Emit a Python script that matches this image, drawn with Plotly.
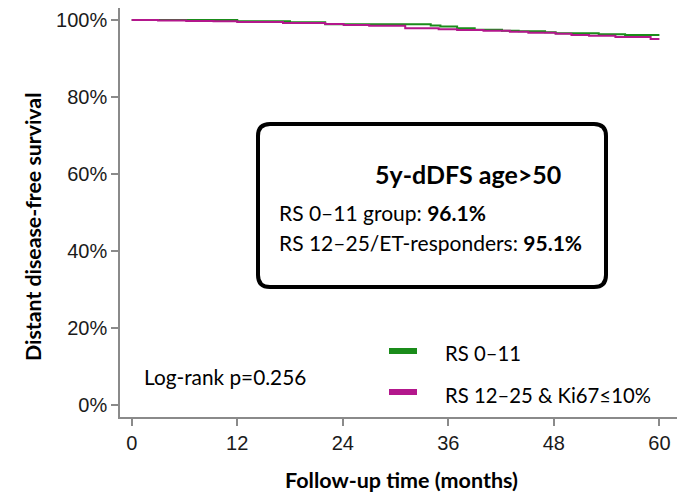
import plotly.graph_objects as go

# Kaplan-Meier step data (months, survival %)
months_rs011 = [0, 12.0, 18.0, 22.0, 34.0, 35.1, 37.0, 39.0, 42.1, 44.0, 47.0, 48.2, 53.1, 56.1, 60]
surv_rs011 = [100, 99.7, 99.4, 98.9, 98.6, 98.3, 97.85, 97.45, 97.2, 97.05, 96.8, 96.55, 96.3, 96.1, 96.1]

months_rs1225 = [0, 3.0, 6.2, 9.3, 12.0, 17.2, 22.0, 24.1, 27.0, 31.1, 34.9, 37.0, 40.0, 43.0, 45.1, 48.2, 50.0, 52.0, 55.0, 59.0, 60]
surv_rs1225 = [100, 99.9, 99.75, 99.65, 99.5, 99.2, 98.95, 98.7, 98.5, 97.85, 97.6, 97.4, 97.2, 96.95, 96.7, 96.4, 96.1, 95.9, 95.6, 95.1, 95.1]

x_ticks = [0, 12, 24, 36, 48, 60]
y_ticks = [0, 20, 40, 60, 80, 100]
y_tick_labels = ["0%", "20%", "40%", "60%", "80%", "100%"]

series_names = ["RS 0\u201311", "RS 12\u201325 & Ki67\u226410%"]
series_colors = ["#1a8c1a", "#b3178c"]

dfs_5y = [96.1, 95.1]
logrank_p = 0.256

W, H = 677, 494
ML, MR, MT, MB = 120, 0, 8, 77
PW, PH = W - ML - MR, H - MT - MB


def px(x):
    return (x - ML) / PW


def py(y):
    return (H - MB - y) / PH


TXT = "Lato, Carlito, 'Noto Sans', sans-serif"
TICK = "'Liberation Sans Narrow', 'Arial Narrow', 'Liberation Sans', Arial, sans-serif"

fig = go.Figure()
for xs, ys, name, col in [
    (months_rs011, surv_rs011, series_names[0], series_colors[0]),
    (months_rs1225, surv_rs1225, series_names[1], series_colors[1]),
]:
    fig.add_trace(go.Scatter(
        x=xs, y=ys, mode="lines", name=name,
        line=dict(color=col, width=2, shape="hv"),
        showlegend=False,
    ))

shapes = []
# rounded summary box
x0, x1 = px(258), px(606)
y0, y1 = py(287), py(124)
rx, ry = 12 / PW, 12 / PH
path = (
    f"M {x0 + rx} {y1} L {x1 - rx} {y1} Q {x1} {y1} {x1} {y1 - ry} "
    f"L {x1} {y0 + ry} Q {x1} {y0} {x1 - rx} {y0} "
    f"L {x0 + rx} {y0} Q {x0} {y0} {x0} {y0 + ry} "
    f"L {x0} {y1 - ry} Q {x0} {y1} {x0 + rx} {y1} Z"
)
shapes.append(dict(type="path", xref="paper", yref="paper", path=path,
                   line=dict(color="black", width=4), fillcolor="white", layer="above"))

# legend swatches
for cy, col in [(351, series_colors[0]), (392, series_colors[1])]:
    shapes.append(dict(type="line", xref="paper", yref="paper",
                       x0=px(389), x1=px(417), y0=py(cy), y1=py(cy),
                       line=dict(color=col, width=6)))

annotations = [
    dict(x=px(468), y=py(174), text="<b>5y-dDFS age>50</b>", font=dict(size=25)),
    dict(x=px(277), y=py(212), xanchor="left",
         text=f"RS 0\u201311 group: <b>{dfs_5y[0]:.1f}%</b>", font=dict(size=21)),
    dict(x=px(277), y=py(243), xanchor="left",
         text=f"RS 12\u201325/ET-responders: <b>{dfs_5y[1]:.1f}%</b>", font=dict(size=21)),
    dict(x=px(443), y=py(353), xanchor="left", text=series_names[0], font=dict(size=20.3)),
    dict(x=px(443), y=py(395), xanchor="left", text=series_names[1], font=dict(size=20.3)),
    dict(x=px(142), y=py(376), xanchor="left", text=f"Log-rank p={logrank_p:.3f}", font=dict(size=20.8)),
    dict(x=px(401), y=py(480), text="<b>Follow-up time (months)</b>", font=dict(size=21.5)),
    dict(x=px(33), y=py(227), text="<b>Distant disease-free survival</b>", textangle=-90,
         font=dict(size=21.3)),
]
for a in annotations:
    a.setdefault("xanchor", "center")
    a.update(xref="paper", yref="paper", yanchor="middle", showarrow=False)
    a["font"].update(family=TXT, color="black")

axis_common = dict(
    showline=True, linecolor="#8a8a8a", linewidth=1.5,
    ticks="outside", tickcolor="#8a8a8a", tickwidth=1.5, ticklen=7,
    showgrid=False, zeroline=False,
    tickfont=dict(family=TICK, size=20, color="#1a1a1a"),
)

fig.update_layout(
    width=W, height=H,
    margin=dict(l=ML, r=MR, t=MT, b=MB),
    paper_bgcolor="white", plot_bgcolor="white",
    xaxis=dict(range=[-1.33, 62.0], tickmode="array", tickvals=x_ticks, **axis_common),
    yaxis=dict(range=[-3.12, 103.12], tickmode="array", tickvals=y_ticks,
               ticktext=y_tick_labels, **axis_common),
    shapes=shapes,
    annotations=annotations,
)

fig.write_html("out.html")
